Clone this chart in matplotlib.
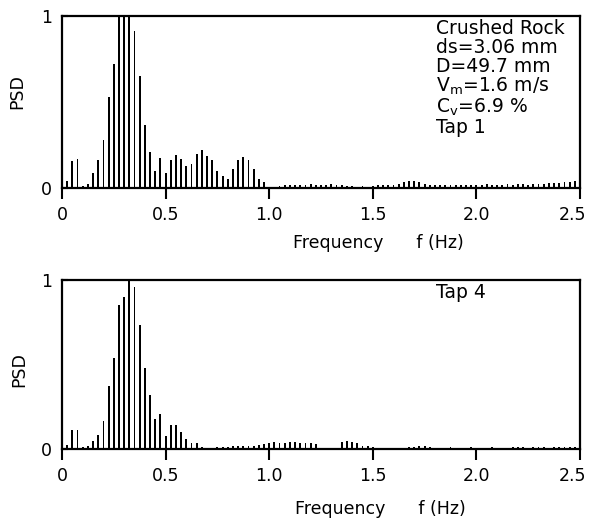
import matplotlib
matplotlib.use("Agg")
import matplotlib.pyplot as plt
from matplotlib.transforms import ScaledTranslation

# frequency bins (Hz)
df = 0.025
freq = [round(df * i, 3) for i in range(1, 101)]

psd_tap1 = [0.04, 0.155, 0.17, 0.01, 0.025, 0.085, 0.16, 0.28, 0.53, 0.72,
            1.0, 1.0, 1.0, 0.91, 0.65, 0.365, 0.21, 0.10, 0.175, 0.085,
            0.16, 0.19, 0.167, 0.13, 0.14, 0.196, 0.22, 0.186, 0.16, 0.10,
            0.07, 0.055, 0.11, 0.165, 0.18, 0.163, 0.11, 0.055, 0.035, 0.005,
            0.008, 0.012, 0.015, 0.018, 0.02, 0.017, 0.02, 0.022, 0.02, 0.018,
            0.02, 0.022, 0.018, 0.016, 0.012, 0.01, 0.008, 0.01, 0.008, 0.012,
            0.015, 0.016, 0.018, 0.02, 0.025, 0.035, 0.04, 0.038, 0.035, 0.025,
            0.018, 0.015, 0.015, 0.018, 0.02, 0.016, 0.018, 0.02, 0.015, 0.018,
            0.02, 0.022, 0.02, 0.018, 0.02, 0.022, 0.02, 0.025, 0.022, 0.02,
            0.025, 0.022, 0.025, 0.028, 0.03, 0.028, 0.032, 0.035, 0.04, 0.04]

psd_tap4 = [0.025, 0.11, 0.11, 0.01, 0.02, 0.045, 0.085, 0.165, 0.375, 0.54,
            0.855, 0.90, 1.0, 0.96, 0.735, 0.48, 0.32, 0.177, 0.207, 0.075,
            0.14, 0.14, 0.098, 0.06, 0.035, 0.035, 0.012, 0.003, 0.008, 0.01,
            0.012, 0.012, 0.015, 0.015, 0.018, 0.02, 0.02, 0.025, 0.028, 0.035,
            0.04, 0.038, 0.035, 0.04, 0.042, 0.035, 0.038, 0.035, 0.03, 0.006,
            0.004, 0.005, 0.008, 0.04, 0.045, 0.042, 0.035, 0.018, 0.015, 0.01,
            0.008, 0.006, 0.005, 0.006, 0.008, 0.006, 0.01, 0.012, 0.015, 0.018,
            0.01, 0.008, 0.006, 0.008, 0.01, 0.008, 0.006, 0.008, 0.01, 0.008,
            0.006, 0.008, 0.01, 0.008, 0.006, 0.008, 0.01, 0.012, 0.01, 0.008,
            0.01, 0.012, 0.01, 0.008, 0.01, 0.012, 0.01, 0.012, 0.01, 0.012]

xticks = [0, 0.5, 1.0, 1.5, 2.0, 2.5]
xticklabels = ["0", "0.5", "1.0", "1.5", "2.0", "2.5"]
yticks = [0, 1]
yticklabels = ["0", "1"]

info_text = ("Crushed Rock\nds=3.06 mm\nD=49.7 mm\n"
             "V$_\\mathregular{m}$=1.6 m/s\nC$_\\mathregular{v}$=6.9 %\nTap 1")
xlabel_text = "Frequency      f (Hz)"

plt.rcParams['font.family'] = ['DejaVu Sans']
FS = 12.5

fig = plt.figure(figsize=(5.91, 5.19), dpi=100)
W, H = 591, 519

def make_ax(top_px, bot_px):
    left, right = 62, 580
    return fig.add_axes([left / W, 1 - bot_px / H, (right - left) / W, (bot_px - top_px) / H])

ax1 = make_ax(16, 188)
ax2 = make_ax(280, 449)

for ax, data in ((ax1, psd_tap1), (ax2, psd_tap4)):
    ax.bar(freq, data, width=0.009, color="black", align="center")
    ax.set_xlim(0, 2.5)
    ax.set_ylim(0, 1)
    ax.set_xticks(xticks)
    ax.set_xticklabels(xticklabels, fontsize=FS)
    ax.set_yticks(yticks)
    ax.set_yticklabels(yticklabels, fontsize=FS)
    ax.tick_params(axis="x", direction="out", length=8, width=1.5, pad=5)
    ax.tick_params(axis="y", direction="in", length=4, width=1.5, pad=7)
    for s in ax.spines.values():
        s.set_linewidth(1.6)
    # keep the last tick label inside the figure edge
    last = ax.get_xticklabels()[-1]
    last.set_transform(last.get_transform() + ScaledTranslation(-0.08, 0, fig.dpi_scale_trans))

# axis labels placed at measured pixel positions
fig.text(17 / W, 1 - 92 / H, "PSD", rotation=90, ha="center", va="center", fontsize=FS)
fig.text(19 / W, 1 - 370 / H, "PSD", rotation=90, ha="center", va="center", fontsize=FS)
fig.text(378 / W, 1 - 243 / H, xlabel_text, ha="center", va="center", fontsize=FS)
fig.text(380 / W, 1 - 509 / H, xlabel_text, ha="center", va="center", fontsize=FS)

ax1.text(0.722, 0.985, info_text, transform=ax1.transAxes, fontsize=13.5,
         va="top", ha="left", linespacing=1.0)
ax2.text(0.722, 0.985, "Tap 4", transform=ax2.transAxes, fontsize=13.5,
         va="top", ha="left")

fig.savefig("out.png", dpi=100)
